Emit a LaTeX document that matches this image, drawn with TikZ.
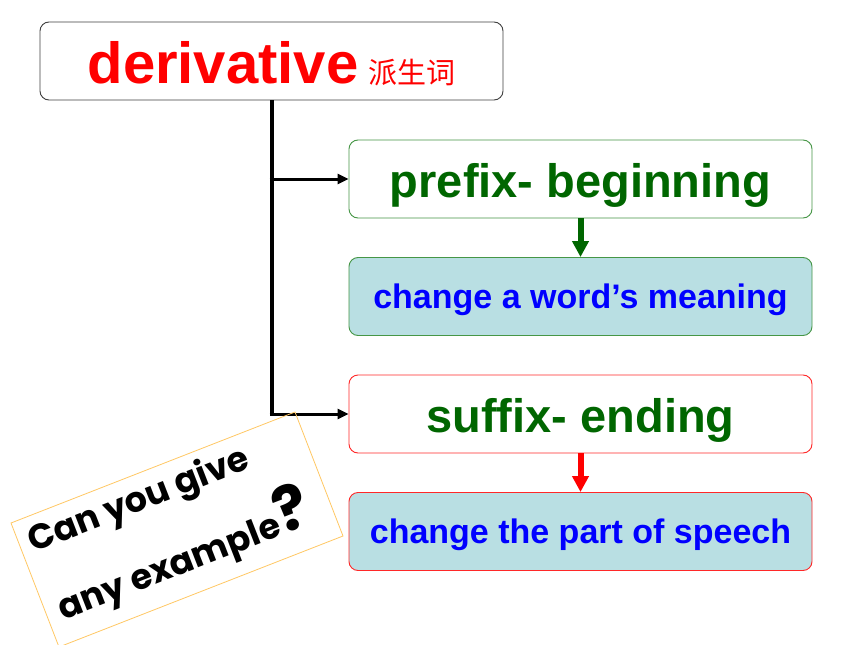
\documentclass[tikz,border=0pt]{standalone}
\usepackage{fontspec}
\setmainfont{Liberation Sans}
\newfontfamily\cjk{Noto Sans CJK SC}
\newfontfamily\comic{Poppins}
\usetikzlibrary{arrows.meta}
\definecolor{dgreen}{RGB}{0,102,0}
\definecolor{bgreen}{RGB}{70,150,70}
\definecolor{bred}{RGB}{255,40,40}
\definecolor{lblue}{RGB}{185,223,227}
\definecolor{borange}{RGB}{255,200,100}
\tikzset{
  mbox/.style={rounded corners=9pt, minimum width=463pt, minimum height=78pt, inner sep=0pt, line width=0.9pt},
  bigtxt/.style={font=\bfseries\fontsize{47}{47}\selectfont, text=dgreen, text height=36pt, text depth=0pt},
  smalltxt/.style={font=\bfseries\fontsize{34}{34}\selectfont, text=blue, text height=23pt, text depth=0pt},
  blackarrow/.style={line width=3pt, -{Triangle[length=11pt,width=10pt]}},
  colarrow/.style={line width=6pt, -{Triangle[length=16pt,width=16pt]}},
  notetxt/.style={font=\comic\bfseries\fontsize{35}{35}\selectfont, rotate=21.3, anchor=base west, inner sep=0pt}
}
\begin{document}
\begin{tikzpicture}[x=1pt,y=-1pt]
\useasboundingbox[fill=white] (0,0) rectangle (860,645);
\node[mbox, draw=black!75, fill=white, text=red, text height=44pt, text depth=0pt] (top) at (271.5,61) {{\bfseries\fontsize{58}{58}\selectfont derivative}\hspace{10pt}{\cjk\fontsize{29}{29}\selectfont 派生词}};
\node[mbox, draw=bgreen, fill=white, bigtxt] (prefix) at (580.5,179) {prefix- beginning};
\node[mbox, draw=bgreen, fill=lblue, smalltxt] (chg1) at (580.5,296.5) {change a word’s meaning};
\node[mbox, draw=bred, fill=white, bigtxt] (suffix) at (580.5,414) {suffix- ending};
\node[mbox, draw=bred, fill=lblue, smalltxt] (chg2) at (580.5,531.5) {change the part of speech};
\coordinate (j1) at (top.south |- prefix.west);
\coordinate (j2) at (top.south |- suffix.west);
\draw[line width=4pt] (top.south) -- ([yshift=-1.5pt]j2);
\draw[blackarrow] ([xshift=-2pt]j1) -- (prefix.west);
\draw[blackarrow] ([xshift=-2pt]j2) -- (suffix.west);
\draw[colarrow, draw=dgreen, fill=dgreen] (prefix.south) -- (chg1.north);
\draw[colarrow, draw=red, fill=red] (suffix.south) -- (chg2.north);
\draw[draw=borange, line width=0.8pt] (11,523) coordinate (n1) -- (295,412) coordinate (n2) -- (343,536) coordinate (n3) -- (59,647) coordinate (n4) -- cycle;
\node[notetxt] (q) at (33,553) {\vtop{\baselineskip=74pt\hbox{Can you give}\hbox{\hspace{4pt}any example{\fontsize{62}{62}\selectfont ?}}}};
\end{tikzpicture}
\end{document}
